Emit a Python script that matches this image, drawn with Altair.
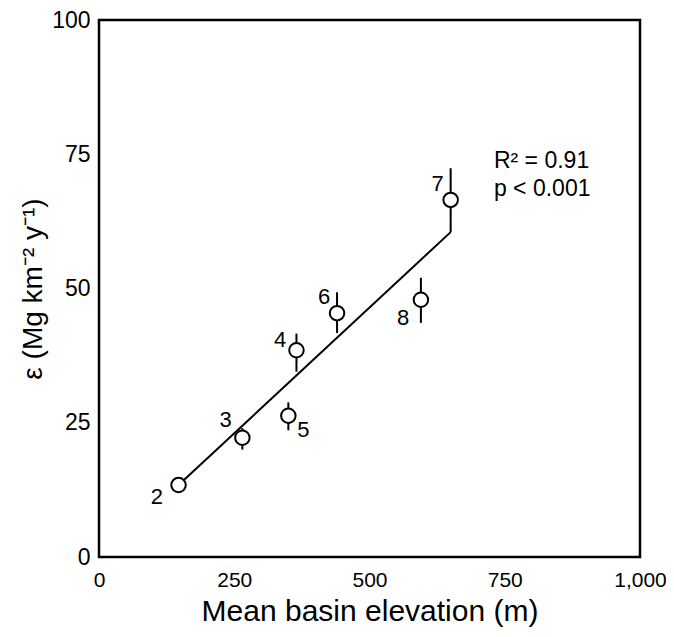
import altair as alt
import pandas as pd

site = ["2", "3", "5", "4", "6", "8", "7"]
elev = [147, 265, 350, 365, 440, 595, 650]
eps = [13.4, 22.2, 26.3, 38.5, 45.4, 47.9, 66.5]
err_lo = [13.4, 20.0, 23.6, 34.5, 41.7, 43.6, 60.5]
err_hi = [13.4, 24.0, 28.8, 41.6, 49.3, 52.0, 72.4]
lab_x = [107, 234, 378, 335, 416, 562, 626]
lab_y = [11.2, 25.5, 23.6, 40.4, 48.4, 44.5, 69.5]

fit_x = [147, 650]
fit_y = [13.4, 60.5]

stats_text = ["R² = 0.91", "p < 0.001"]
stats_x = [730, 730]
stats_y = [73.8, 68.5]

df = pd.DataFrame(dict(site=site, elev=elev, eps=eps, lo=err_lo, hi=err_hi, lx=lab_x, ly=lab_y))
fit = pd.DataFrame(dict(x=fit_x, y=fit_y))
st = pd.DataFrame(dict(t=stats_text, x=stats_x, y=stats_y))

xs = alt.Scale(domain=[0, 1000], nice=False)
ys = alt.Scale(domain=[0, 100], nice=False)
font = "Liberation Sans"

xax = alt.Axis(values=[0, 250, 500, 750, 1000], format=",d", title="Mean basin elevation (m)",
               ticks=False, domain=False, grid=False, labelFontSize=21, titleFontSize=30,
               labelPadding=12, titlePadding=6, labelFont=font, titleFont=font,
               labelFlush=False, labelOverlap=False,
               labelColor="black", titleColor="black", titleFontWeight="normal")
yax = alt.Axis(values=[0, 25, 50, 75, 100], format="d", title="ε (Mg km⁻² y⁻¹)",
               ticks=False, domain=False, grid=False, labelFontSize=23, titleFontSize=28,
               labelPadding=9, titlePadding=4, labelFont=font, titleFont=font,
               labelFlush=False, labelOverlap=False,
               labelColor="black", titleColor="black", titleFontWeight="normal")

line = alt.Chart(fit).mark_line(color="black", strokeWidth=2).encode(
    x=alt.X("x:Q", scale=xs, axis=xax), y=alt.Y("y:Q", scale=ys, axis=yax))

err = alt.Chart(df).mark_rule(color="black", strokeWidth=2).encode(
    x=alt.X("elev:Q", scale=xs), y=alt.Y("lo:Q", scale=ys), y2="hi:Q")

pts = alt.Chart(df).mark_point(shape="circle", size=210, filled=False, fill="white",
                               fillOpacity=1, stroke="black", strokeWidth=2, opacity=1).encode(
    x=alt.X("elev:Q", scale=xs), y=alt.Y("eps:Q", scale=ys))

labs = alt.Chart(df).mark_text(fontSize=22, font=font, color="black").encode(
    x=alt.X("lx:Q", scale=xs), y=alt.Y("ly:Q", scale=ys), text="site:N")

stats = alt.Chart(st).mark_text(fontSize=23, font=font, color="black", align="left").encode(
    x=alt.X("x:Q", scale=xs), y=alt.Y("y:Q", scale=ys), text="t:N")

chart = alt.layer(line, err, pts, labs, stats).properties(
    width=541, height=537,
    autosize=alt.AutoSizeParams(type="none"),
    padding={"left": 91, "top": 12, "right": 26, "bottom": 72},
).configure(
    background="white",
    view=alt.ViewConfig(stroke="black", strokeWidth=2.5),
)

chart.save("out.html", embed_options={"renderer": "svg", "actions": False})
